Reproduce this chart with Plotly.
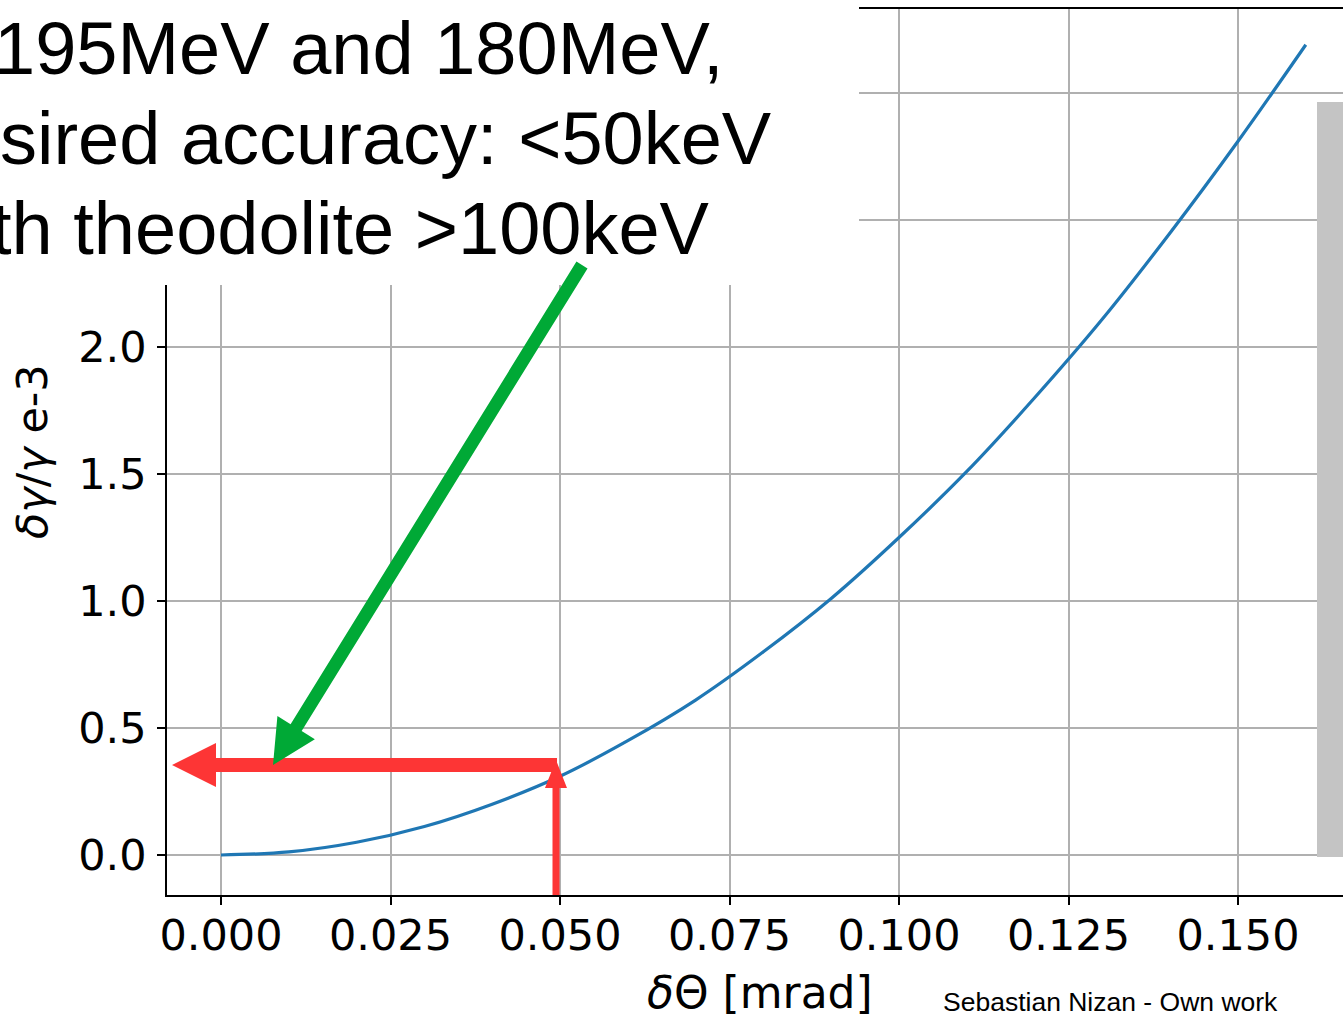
import plotly.graph_objects as go

# ---- data ----
theta_mrad = [0.0, 0.01, 0.02, 0.03, 0.04, 0.05, 0.06, 0.07, 0.08, 0.09,
              0.10, 0.11, 0.12, 0.13, 0.14, 0.15, 0.16]
dgamma_e3 = [0.0, 0.012, 0.05, 0.112, 0.2, 0.31, 0.45, 0.61, 0.8, 1.01,
             1.25, 1.51, 1.8, 2.11, 2.45, 2.81, 3.19]
x_ticks = [0.0, 0.025, 0.05, 0.075, 0.1, 0.125, 0.15]
x_ticktext = ["0.000", "0.025", "0.050", "0.075", "0.100", "0.125", "0.150"]
y_ticks = [0.0, 0.5, 1.0, 1.5, 2.0, 2.5, 3.0]
y_ticktext = ["0.0", "0.5", "1.0", "1.5", "2.0", "", ""]
slide_lines = ["195MeV and 180MeV,", "sired accuracy: <50keV", "th theodolite >100keV"]
credit = "Sebastian Nizan - Own work"

# ---- geometry ----
W, H = 1343, 1016
PL, PR, PT, PB = 167, 1343, 9, 895
XPX0, XSC = 221.0, 1017.0 / 0.15      # px of x=0, px per unit
YPX0, YSC = 855.0, 254.0              # px of y=0, px per unit
X0 = (PL - XPX0) / XSC
X1 = (PR - XPX0) / XSC
Y0 = (YPX0 - PB) / YSC
Y1 = (YPX0 - PT) / YSC


def dx(px):
    return (px - XPX0) / XSC


def dy(py):
    return (YPX0 - py) / YSC


def pxp(px):
    return (px - PL) / (PR - PL)


def pyp(py):
    return (PB - py) / (PB - PT)


def path_data(pts):
    return "M " + " L ".join(f"{dx(a):.6f},{dy(b):.6f}" for a, b in pts) + " Z"


fig = go.Figure()
fig.add_trace(go.Scatter(x=theta_mrad, y=dgamma_e3, mode="lines",
                         line=dict(color="#1f77b4", width=3.2, shape="spline"),
                         hoverinfo="skip"))

RED = "#fd3535"
GREEN = "#00a936"

shapes = []
# white slide text box over top-left
shapes.append(dict(type="rect", xref="paper", yref="paper",
                   x0=pxp(-5), x1=pxp(859), y0=pyp(285), y1=pyp(-5),
                   fillcolor="white", line=dict(width=0), layer="above"))
# grey strip at right
shapes.append(dict(type="rect", xref="paper", yref="paper",
                   x0=pxp(1317), x1=pxp(1350), y0=pyp(857), y1=pyp(102),
                   fillcolor="#c4c4c4", line=dict(width=0), layer="above"))

# red horizontal arrow
hy = 765
red_h = [(557, hy - 7), (216, hy - 7), (216, hy - 22), (172, hy),
         (216, hy + 22), (216, hy + 7), (557, hy + 7)]
shapes.append(dict(type="path", xref="x", yref="y", path=path_data(red_h),
                   fillcolor=RED, line=dict(width=0), layer="above"))
# red vertical arrow
vx = 556
red_v = [(vx - 3.5, 895), (vx - 3.5, 788), (vx - 11, 788), (vx, 760),
         (vx + 11, 788), (vx + 3.5, 788), (vx + 3.5, 895)]
shapes.append(dict(type="path", xref="x", yref="y", path=path_data(red_v),
                   fillcolor=RED, line=dict(width=0), layer="above"))

# green arrow
tx, ty = 582.0, 265.0
px_, py_ = 273.0, 765.0
L = ((px_ - tx) ** 2 + (py_ - ty) ** 2) ** 0.5
ux, uy = (px_ - tx) / L, (py_ - ty) / L
nx, ny = -uy, ux
bx, by = px_ - 44 * ux, py_ - 44 * uy
t2, hw = 6.5, 22
green = [(tx + t2 * nx, ty + t2 * ny), (bx + t2 * nx, by + t2 * ny),
         (bx + hw * nx, by + hw * ny), (px_, py_),
         (bx - hw * nx, by - hw * ny), (bx - t2 * nx, by - t2 * ny),
         (tx - t2 * nx, ty - t2 * ny)]
shapes.append(dict(type="path", xref="x", yref="y", path=path_data(green),
                   fillcolor=GREEN, line=dict(width=0), layer="above"))

annotations = []
big_font = dict(family="Liberation Sans, Arial, sans-serif", size=74, color="black")
for txt, right, ymid in zip(slide_lines, [726, 774, 712], [49, 138, 228]):
    annotations.append(dict(text=txt, xref="paper", yref="paper",
                            x=pxp(right), y=pyp(ymid), xanchor="right", yanchor="middle",
                            showarrow=False, font=big_font))
annotations.append(dict(text=credit, xref="paper", yref="paper",
                        x=pxp(941), y=pyp(1002), xanchor="left", yanchor="middle",
                        showarrow=False,
                        font=dict(family="Liberation Sans, Arial, sans-serif", size=26.5, color="black")))
annotations.append(dict(text="<i>δ</i>Θ [mrad]", xref="paper", yref="paper",
                        x=pxp(760), y=pyp(993), xanchor="center", yanchor="middle",
                        showarrow=False,
                        font=dict(family="DejaVu Sans", size=44, color="black")))
annotations.append(dict(text="<i>δγ</i>/<i>γ</i> e-3", xref="paper", yref="paper",
                        x=pxp(32), y=pyp(452), xanchor="center", yanchor="middle",
                        textangle=-90, showarrow=False,
                        font=dict(family="DejaVu Sans", size=43, color="black")))

axis_common = dict(ticks="outside", ticklen=8, tickwidth=1.6, tickcolor="black",
                   showline=True, linecolor="black", linewidth=1.6,
                   showgrid=True, gridcolor="#b0b0b0", gridwidth=1.6,
                   zeroline=False, tickfont=dict(family="DejaVu Sans", size=43, color="black"))

fig.update_layout(
    width=W, height=H,
    margin=dict(l=PL, r=W - PR, t=PT, b=H - PB, pad=0),
    paper_bgcolor="white", plot_bgcolor="white",
    showlegend=False,
    xaxis=dict(range=[X0, X1], tickvals=x_ticks, ticktext=x_ticktext,
               mirror=True, ticklabelstandoff=-6, **axis_common),
    yaxis=dict(range=[Y0, Y1], tickvals=y_ticks, ticktext=y_ticktext,
               mirror=False, ticklabelstandoff=2, **axis_common),
    shapes=shapes,
    annotations=annotations,
)

fig.write_html("out.html")
